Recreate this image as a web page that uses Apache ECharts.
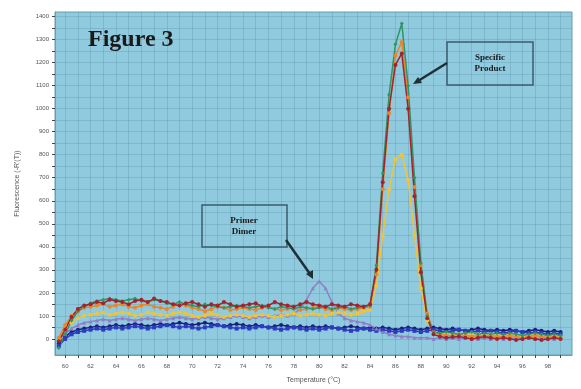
<!DOCTYPE html>
<html>
<head>
<meta charset="utf-8">
<script src="https://cdn.jsdelivr.net/npm/echarts@6/dist/echarts.min.js"></script>
<style>
  html, body { margin: 0; padding: 0; background: #ffffff; }
  #chart { width: 581px; height: 389px; }
</style>
</head>
<body>
<div id="chart"></div>
<script>
// 温度 (°C)，每 0.5 度一个点
var temps = [
  59.5, 60, 60.5, 61, 61.5, 62, 62.5, 63, 63.5, 64,
  64.5, 65, 65.5, 66, 66.5, 67, 67.5, 68, 68.5, 69,
  69.5, 70, 70.5, 71, 71.5, 72, 72.5, 73, 73.5, 74,
  74.5, 75, 75.5, 76, 76.5, 77, 77.5, 78, 78.5, 79,
  79.5, 80, 80.5, 81, 81.5, 82, 82.5, 83, 83.5, 84,
  84.5, 85, 85.5, 86, 86.5, 87, 87.5, 88, 88.5, 89,
  89.5, 90, 90.5, 91, 91.5, 92, 92.5, 93, 93.5, 94,
  94.5, 95, 95.5, 96, 96.5, 97, 97.5, 98, 98.5, 99
];

var xTickValues = [60, 61, 62, 63, 64, 65, 66, 67, 68, 69, 70, 71, 72, 73, 74, 75, 76, 77, 78, 79,
  80, 81, 82, 83, 84, 85, 86, 87, 88, 89, 90, 91, 92, 93, 94, 95, 96, 97, 98, 99];
var xLabelValues = [60, 62, 64, 66, 68, 70, 72, 74, 76, 78, 80, 82, 84, 86, 88, 90, 92, 94, 96, 98];
var yTickValues = [0, 50, 100, 150, 200, 250, 300, 350, 400, 450, 500, 550, 600, 650, 700,
  750, 800, 850, 900, 950, 1000, 1050, 1100, 1150, 1200, 1250, 1300, 1350, 1400];
var yLabelValues = [0, 100, 200, 300, 400, 500, 600, 700, 800, 900, 1000, 1100, 1200, 1300, 1400];

// 各孔的 -R'(T)
var wellNavy = [
  -20, 10, 30, 40, 45, 50, 55, 50, 55, 60,
  55, 60, 65, 60, 55, 60, 65, 60, 65, 70,
  65, 60, 65, 70, 65, 60, 55, 60, 65, 60,
  55, 60, 55, 50, 55, 60, 55, 50, 55, 50,
  55, 50, 55, 50, 45, 50, 55, 50, 45, 50,
  45, 50, 45, 40, 45, 50, 45, 40, 45, 50,
  45, 40, 45, 40, 35, 40, 45, 40, 35, 40,
  35, 40, 35, 30, 35, 40, 35, 30, 35, 30
];
var wellBlue = [
  -30, 0, 20, 30, 35, 40, 45, 40, 45, 50,
  45, 50, 55, 50, 45, 50, 55, 60, 55, 50,
  55, 50, 45, 50, 55, 60, 55, 50, 45, 50,
  45, 50, 55, 50, 45, 40, 45, 50, 45, 40,
  45, 40, 45, 50, 45, 40, 35, 40, 45, 40,
  35, 40, 35, 30, 35, 40, 35, 30, 35, 40,
  35, 30, 35, 40, 35, 30, 35, 30, 35, 30,
  25, 30, 35, 30, 25, 30, 25, 20, 25, 20
];
var wellDimer = [
  0, 20, 45, 60, 70, 75, 80, 85, 80, 85,
  90, 85, 80, 85, 90, 85, 80, 85, 90, 95,
  90, 85, 90, 95, 90, 85, 90, 95, 100, 95,
  90, 95, 100, 95, 100, 105, 100, 110, 130, 170,
  220, 250, 220, 160, 110, 90, 80, 75, 70, 60,
  45, 30, 20, 15, 10, 10, 5, 5, 5, 0,
  5, 0, 5, 0, 5, 0, 0, 5, 0, 5,
  0, 5, 0, 0, 5, 0, 5, 0, 0, 5
];
var wellYellow = [
  0, 40, 70, 90, 100, 105, 110, 115, 105, 110,
  115, 110, 100, 105, 115, 110, 105, 100, 110, 115,
  110, 100, 95, 100, 110, 105, 95, 100, 105, 100,
  95, 100, 105, 100, 95, 100, 105, 110, 100, 105,
  110, 105, 100, 110, 115, 110, 105, 110, 120, 125,
  230, 450, 650, 780, 800, 690, 450, 220, 80, 25,
  20, 25, 20, 15, 20, 25, 20, 15, 20, 15,
  15, 20, 15, 10, 15, 20, 15, 10, 15, 10
];
var wellOrange = [
  5, 60, 100, 120, 135, 140, 145, 150, 140, 145,
  150, 140, 135, 145, 150, 140, 135, 130, 140, 150,
  145, 135, 130, 120, 130, 140, 135, 125, 130, 135,
  130, 125, 135, 140, 130, 125, 130, 135, 125, 130,
  135, 140, 130, 125, 135, 130, 125, 130, 135, 140,
  280, 650, 980, 1230, 1290, 1050, 660, 320, 110, 30,
  20, 15, 15, 20, 15, 10, 15, 10, 15, 10,
  10, 15, 10, 5, 10, 15, 10, 5, 10, 5
];
var wellGreen = [
  -40, 20, 80, 120, 140, 155, 165, 170, 175, 170,
  165, 170, 175, 165, 160, 170, 165, 155, 150, 160,
  150, 145, 140, 150, 145, 140, 135, 140, 145, 140,
  135, 140, 145, 135, 130, 140, 135, 130, 140, 135,
  130, 135, 140, 130, 135, 140, 130, 135, 140, 145,
  320, 720, 1060, 1280, 1370, 1100, 700, 330, 100, 30,
  25, 30, 25, 20, 25, 30, 20, 25, 20, 25,
  20, 25, 20, 15, 20, 25, 20, 15, 20, 15
];
var wellRed = [
  -10, 40, 95, 130, 145, 150, 160, 155, 170, 165,
  160, 150, 165, 170, 160, 175, 165, 160, 150, 145,
  155, 160, 150, 140, 150, 145, 160, 150, 140, 145,
  150, 155, 140, 145, 160, 150, 145, 140, 150, 160,
  150, 145, 140, 150, 145, 140, 150, 145, 140, 150,
  300, 680, 1000, 1190, 1240, 1000, 620, 290, 90, 20,
  10, 5, 8, 10, 5, 0, 5, 10, 5, 0,
  5, 0, -5, 0, 5, 0, -5, 0, 5, 0
];

var wells = [
  { name: "A1", data: wellNavy, color: "#1c1f7a", symbol: "circle" },
  { name: "A2", data: wellBlue, color: "#2b3cc0", symbol: "rect" },
  { name: "A3", data: wellDimer, color: "#8f7fc4", symbol: "triangle" },
  { name: "A4", data: wellYellow, color: "#f0c43a", symbol: "circle" },
  { name: "A5", data: wellOrange, color: "#e8862a", symbol: "circle" },
  { name: "A6", data: wellGreen, color: "#2f9468", symbol: "diamond" },
  { name: "A7", data: wellRed, color: "#a3222d", symbol: "circle" }
];

var series = [];
for (var i = 0; i < wells.length; i++) {
  var pts = [];
  for (var j = 0; j < temps.length; j++) {
    pts.push([temps[j], wells[i].data[j]]);
  }
  series.push({
    name: wells[i].name,
    type: "line",
    data: pts,
    color: wells[i].color,
    symbol: wells[i].symbol,
    symbolSize: 4,
    lineStyle: { width: 1.5 },
    animation: false
  });
}

var chart = echarts.init(document.getElementById("chart"));
var option = {
  backgroundColor: "#ffffff",
  grid: {
    left: 55,
    right: 9,
    top: 12,
    bottom: 34,
    show: true,
    backgroundColor: "#90cade",
    borderColor: "#6b9cb0",
    borderWidth: 1
  },
  xAxis: {
    type: "value",
    min: 59.2,
    max: 99.9,
    name: "Temperature (°C)",
    nameLocation: "middle",
    nameGap: 22,
    nameTextStyle: { fontSize: 7, color: "#555" },
    axisLine: { onZero: false, lineStyle: { color: "#6b9cb0" } },
    axisTick: { customValues: xTickValues, length: 3, lineStyle: { color: "#444" } },
    axisLabel: { customValues: xLabelValues, fontSize: 6, color: "#555", margin: 8 },
    splitLine: { show: true, lineStyle: { color: "rgba(60,110,140,0.2)", width: 1 } }
  },
  yAxis: {
    type: "value",
    min: -70,
    max: 1420,
    name: "Fluorescence (-R'(T))",
    nameLocation: "middle",
    nameGap: 34,
    nameTextStyle: { fontSize: 7, color: "#555" },
    axisLine: { show: true, lineStyle: { color: "#6b9cb0" } },
    axisTick: { show: true, customValues: yTickValues, length: 3, lineStyle: { color: "#444" } },
    axisLabel: {
      customValues: yLabelValues, fontSize: 6, color: "#555", margin: 6,
      formatter: function (v) { return String(v); }
    },
    splitLine: { show: true, lineStyle: { color: "rgba(60,110,140,0.2)", width: 1 } }
  },
  graphic: [
    {
      type: "text", left: 88, top: 28, z: 10,
      style: { text: "Figure 3", font: "bold 24px 'Liberation Serif', 'DejaVu Serif', serif", fill: "#1a1a1a" }
    },
    {
      type: "rect", z: 10,
      shape: { x: 447, y: 42, width: 86, height: 43 },
      style: { fill: "rgba(0,0,0,0)", stroke: "#3b5c6c", lineWidth: 1.5 }
    },
    {
      type: "text", z: 10, x: 490, y: 63,
      style: { text: "Specific\nProduct", font: "bold 9px 'Liberation Serif', serif", fill: "#1a1a1a", align: "center", verticalAlign: "middle", lineHeight: 11 }
    },
    {
      type: "line", z: 10,
      shape: { x1: 447, y1: 63, x2: 418, y2: 81 },
      style: { stroke: "#1f2f36", lineWidth: 2.5 }
    },
    {
      type: "polygon", z: 10,
      shape: { points: [[413, 84], [418, 77], [422, 83]] },
      style: { fill: "#1f2f36" }
    },
    {
      type: "rect", z: 10,
      shape: { x: 202, y: 205, width: 85, height: 42 },
      style: { fill: "rgba(0,0,0,0)", stroke: "#3b5c6c", lineWidth: 1.5 }
    },
    {
      type: "text", z: 10, x: 244, y: 226,
      style: { text: "Primer\nDimer", font: "bold 9px 'Liberation Serif', serif", fill: "#1a1a1a", align: "center", verticalAlign: "middle", lineHeight: 11 }
    },
    {
      type: "line", z: 10,
      shape: { x1: 286, y1: 240, x2: 310, y2: 274 },
      style: { stroke: "#1f2f36", lineWidth: 2.5 }
    },
    {
      type: "polygon", z: 10,
      shape: { points: [[313, 279], [306, 274], [313, 270]] },
      style: { fill: "#1f2f36" }
    }
  ],
  series: series
};
chart.setOption(option);
</script>
</body>
</html>
